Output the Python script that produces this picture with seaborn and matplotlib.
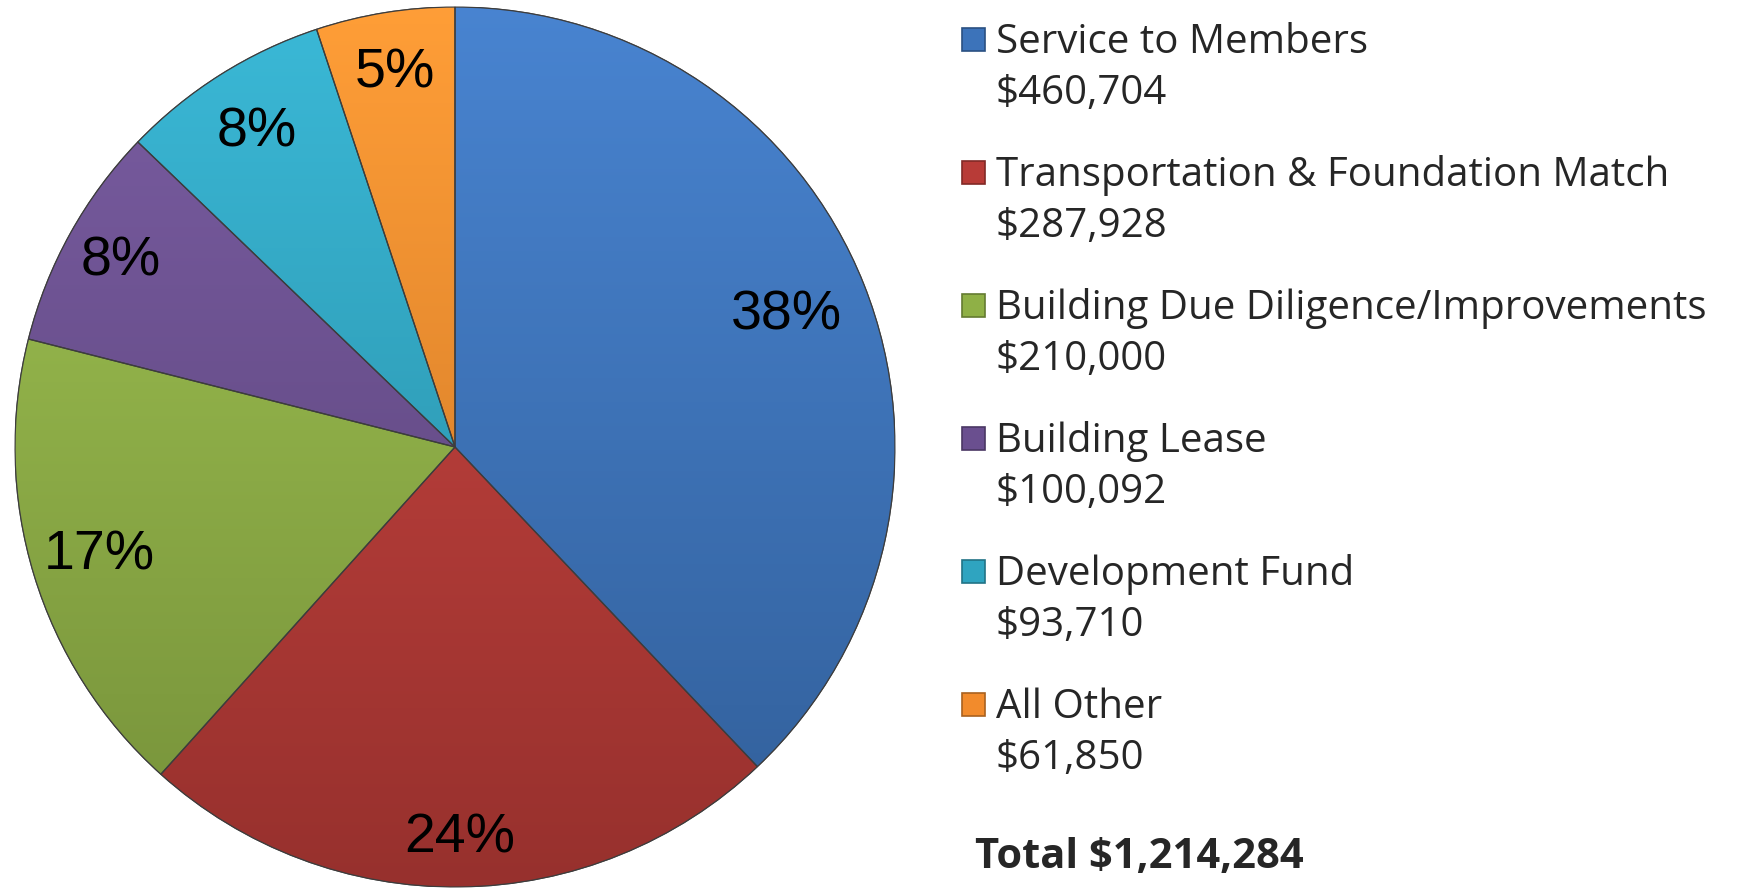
import numpy as np
import matplotlib
matplotlib.use("Agg")
import matplotlib.pyplot as plt
import matplotlib.colors as mcolors
from matplotlib.patches import Rectangle, Wedge
import seaborn as sns

# data
categories = ["Service to Members", "Transportation & Foundation Match",
              "Building Due Diligence/Improvements", "Building Lease",
              "Development Fund", "All Other"]
amounts = [460704, 287928, 210000, 100092, 93710, 61850]
pct_labels = ["38%", "24%", "17%", "8%", "8%", "5%"]
colors = ["#3c73ba", "#b83b37", "#8fb046", "#6a4f8f", "#2fa4c0", "#f28b2c"]
total_label = "Total $1,214,284"

# label distance from centre, per slice (like Excel best fit)
label_dist = [0.81, 0.89, 0.845, 0.87, 0.845, 0.86]

sns.set_style("white")
plt.rcParams["font.family"] = ["Liberation Sans", "DejaVu Sans"]

W, H = 1741, 890
fig = plt.figure(figsize=(W / 100, H / 100), dpi=100)

# pie axes: centre (455, 447) px, radius 440 px
cx, cy, r = 455, 447, 440
ax = fig.add_axes([(cx - r) / W, (H - cy - r) / H, 2 * r / W, 2 * r / H])

wedges, texts = ax.pie(
    amounts, colors=colors, startangle=90, counterclock=False,
    wedgeprops=dict(edgecolor="#4a4a4a", linewidth=0.8))

# vertical shading inside each wedge (lighter top, darker bottom)
grad = np.linspace(0, 1, 256).reshape(-1, 1)
for w, c, lab, d in zip(wedges, colors, pct_labels, label_dist):
    base = np.array(mcolors.to_rgb(c))
    top = np.clip(base * 1.08 + 0.03, 0, 1)
    bot = base * 0.82
    img = top[None, None, :] * (1 - grad[..., None]) + bot[None, None, :] * grad[..., None]
    im = ax.imshow(img, extent=(-1, 1, -1, 1), origin="upper", aspect="auto",
                   zorder=w.get_zorder() + 0.1)
    im.set_clip_path(w)
    ax.add_patch(Wedge(w.center, w.r, w.theta1, w.theta2, fill=False,
                       edgecolor="#3d3d3d", linewidth=0.9, zorder=w.get_zorder() + 0.2))
    mid = np.deg2rad((w.theta1 + w.theta2) / 2)
    ax.text(d * np.cos(mid), d * np.sin(mid), lab, fontsize=40, color="black",
            ha="center", va="center", zorder=10)

ax.set_xlim(-1, 1)
ax.set_ylim(-1, 1)
ax.axis("off")

# legend on the right
leg_font = ["Open Sans", "DejaVu Sans"]
x_box, x_txt = 962 / W, 996 / W
base0, step = 53, 133
box = 23
for i, (cat, amt, c) in enumerate(zip(categories, amounts, colors)):
    yb = base0 + i * step
    fig.text(x_txt, 1 - yb / H, cat, fontsize=29, va="baseline", ha="left", family=leg_font)
    fig.text(x_txt, 1 - (yb + 51) / H, f"${amt:,}", fontsize=29, va="baseline", ha="left",
             family=leg_font)
    fig.patches.append(Rectangle((x_box, 1 - (yb - 14 + box / 2) / H), box / W, box / H,
                                 transform=fig.transFigure, facecolor=c,
                                 edgecolor=mcolors.to_hex(np.array(mcolors.to_rgb(c)) * 0.7),
                                 linewidth=1.2))

fig.text(975 / W, 1 - 868 / H, total_label, fontsize=30, fontweight="bold",
         va="baseline", ha="left", family=leg_font)

fig.savefig("out.png", dpi=100)
